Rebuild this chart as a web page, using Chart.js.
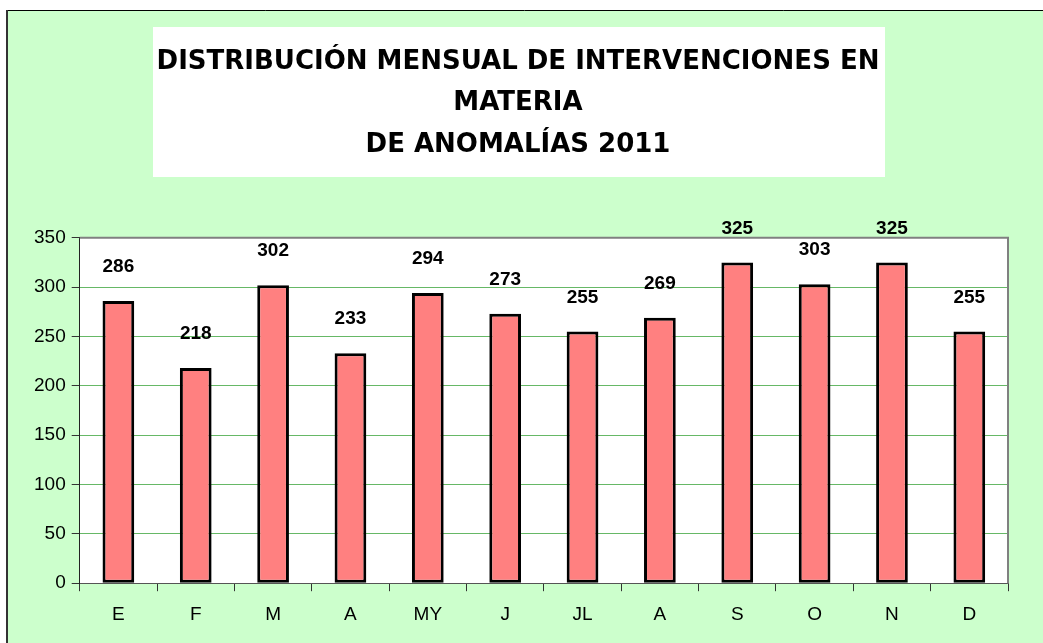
<!DOCTYPE html>
<html>
<head>
<meta charset="utf-8">
<script src="https://cdn.jsdelivr.net/npm/chart.js@4.4.0/dist/chart.umd.min.js"></script>
<style>
  html, body { margin: 0; padding: 0; background: #ffffff; }
  #wrap { width: 1043px; height: 643px; position: relative; }
</style>
</head>
<body>
<div id="wrap"><canvas id="chart" width="1043" height="643"></canvas></div>
<script>
// chart data
const months = ["E", "F", "M", "A", "MY", "J", "JL", "A", "S", "O", "N", "D"];
const interventions = [286, 218, 302, 233, 294, 273, 255, 269, 325, 303, 325, 255];
const yTicks = [0, 50, 100, 150, 200, 250, 300, 350];
const titleLines = [
    "DISTRIBUCIÓN MENSUAL DE INTERVENCIONES EN",
    "MATERIA",
    "DE ANOMALÍAS 2011"
];

// green frame, white title box, white plot area
const framePlugin = {
    id: "frame",
    beforeDraw(chart) {
        const ctx = chart.ctx;
        const area = chart.chartArea;
        ctx.save();
        ctx.fillStyle = "#ccffcc";
        ctx.fillRect(6, 10, chart.width - 6, chart.height - 10);
        ctx.strokeStyle = "#000";
        ctx.lineWidth = 1;
        ctx.beginPath();
        ctx.moveTo(6, 10.5);
        ctx.lineTo(chart.width, 10.5);
        ctx.stroke();
        ctx.strokeStyle = "#333";
        ctx.lineWidth = 2;
        ctx.beginPath();
        ctx.moveTo(7, 10);
        ctx.lineTo(7, chart.height);
        ctx.stroke();
        // title box
        ctx.fillStyle = "#ffffff";
        ctx.fillRect(153, 27, 732, 150);
        // plot area
        ctx.fillRect(area.left, area.top, area.right - area.left, area.bottom - area.top);
        ctx.restore();
    },
    afterDatasetsDraw(chart) {
        const ctx = chart.ctx;
        const area = chart.chartArea;
        ctx.save();
        ctx.strokeStyle = "#808080";
        ctx.lineWidth = 2;
        ctx.beginPath();
        ctx.moveTo(area.left, area.top);
        ctx.lineTo(area.right, area.top);
        ctx.lineTo(area.right, area.bottom);
        ctx.stroke();
        // value labels above bars
        ctx.fillStyle = "#000";
        ctx.font = "bold 19px 'Liberation Sans', Arial, sans-serif";
        ctx.textAlign = "center";
        ctx.textBaseline = "middle";
        chart.getDatasetMeta(0).data.forEach((bar, i) => {
            ctx.fillText(String(interventions[i]), bar.x, bar.y - 34);
        });
        ctx.restore();
    }
};

new Chart(document.getElementById("chart"), {
    type: "bar",
    data: {
        labels: months,
        datasets: [{
            data: interventions,
            backgroundColor: "#ff8080",
            borderColor: "#000000",
            borderWidth: 3,
            borderSkipped: false,
            categoryPercentage: 1,
            barPercentage: 0.41
        }]
    },
    options: {
        responsive: false,
        animation: false,
        layout: { padding: { top: 0, left: 28, right: 35, bottom: 5 } },
        plugins: {
            legend: { display: false },
            tooltip: { enabled: false },
            title: {
                display: true,
                text: titleLines,
                color: "#000",
                font: { family: "'DejaVu Sans', sans-serif", weight: "bold", size: 26, lineHeight: 1.6 },
                padding: { top: 41, bottom: 72 }
            }
        },
        scales: {
            x: {
                grid: { display: true, drawOnChartArea: false, offset: true, tickLength: 8, tickColor: "#333" },
                border: { color: "#555", width: 1 },
                ticks: { color: "#000", font: { family: "'Liberation Sans', Arial, sans-serif", size: 19 }, padding: 12 }
            },
            y: {
                min: 0,
                max: 350,
                afterBuildTicks(axis) { axis.ticks = yTicks.map(v => ({ value: v })); },
                grid: { color: "#66b866", lineWidth: 1, tickLength: 8, tickColor: "#333" },
                border: { color: "#222", width: 1 },
                ticks: { color: "#000", font: { family: "'Liberation Sans', Arial, sans-serif", size: 19 }, padding: 6 }
            }
        }
    },
    plugins: [framePlugin]
});
</script>
</body>
</html>
